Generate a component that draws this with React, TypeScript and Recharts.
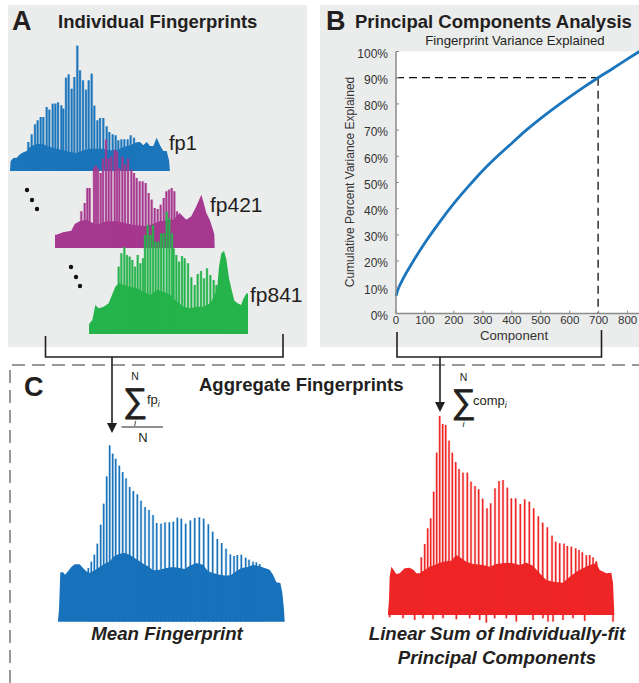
import { ComposedChart, LineChart, Line, Area, Bar, XAxis, YAxis, CartesianGrid, ReferenceLine } from "recharts";

const FONT = "'Liberation Sans', Arial, sans-serif";
const INK = "#231f20";

// individual fingerprints: channel + relative intensity
const fp1BaseX = [0,2,10,20,30,40,50,60,70,80,90,100,120,140,160,180,200,220,240,260,280,300,320,340,360,380,390,400,410,420,430,440,450,460,470,477,480];
const fp1Base = [4,32,41,42,52,58,62,74,79,82,84,82,74,69,64,59,56,64,69,69,69,64,64,74,79,88,89,79,89,77,77,102,79,62,62,34,0];
const fp1PeakX = [55,65,75,83,92,100,110,118,128,136,144,154,160,168,176,185,193,202,210,219,228,236,245,253,262,270,280,290,298,308,317,325,334,343,353,362,372];
const fp1Peak = [89,112,142,154,164,164,194,186,204,204,208,199,189,282,292,249,284,378,304,274,246,274,294,198,154,161,161,136,119,112,109,94,97,97,97,109,102];

const fp421BaseX = [0,4,24,49,59,74,94,124,154,184,234,274,314,354,374,394,409,424,439,446,454,464,474,478,479];
const fp421Base = [40,40,47,52,72,80,85,70,80,80,70,65,80,85,105,85,95,125,160,135,105,85,55,40,0];
const fp421PeakX = [79,89,97,104,117,123,129,137,144,153,161,169,179,186,193,202,210,219,229,237,245,254,263,272,281,290,299,308,317,326,334,342,350,358,366];
const fp421Peak = [110,135,180,180,241,247,238,225,268,325,268,275,295,290,240,274,250,268,235,225,210,200,200,195,165,145,120,117,130,150,170,175,180,170,110];

const fp841BaseX = [0,2,10,19,29,44,59,69,79,89,104,124,144,164,184,204,224,244,264,284,304,324,344,364,384,390,397,405,412,420,428,436,446,456,464,474,478,479];
const fp841Base = [30,33,43,88,78,83,93,118,143,153,148,143,138,128,118,133,128,118,98,83,78,83,83,93,133,203,243,250,225,168,133,101,93,88,108,125,118,0];
const fp841PeakX = [89,97,106,114,122,130,138,146,154,162,168,176,184,192,200,208,216,224,233,241,249,254,262,270,279,287,297,307,317,326,336,345,354,364,374,382];
const fp841Peak = [203,243,261,238,233,223,203,238,213,228,298,328,298,328,278,278,303,303,368,348,303,258,238,218,235,228,213,171,148,181,190,168,198,178,163,148];

// aggregate fingerprints
const meanBaseX = [0,3,7,15,21,30,40,50,65,75,85,95,110,125,140,155,170,185,200,215,230,245,260,270,285,305,325,345,365,380,395,415,435,450,465,485,505,520,535,550,570,585,605,620,635,645,655,667,673,678,680];
const meanBase = [4,36,148,148,141,151,164,172,172,161,151,146,154,164,174,181,198,204,206,201,191,181,171,166,154,156,161,164,161,158,168,176,171,151,146,141,138,141,151,161,164,171,166,161,156,141,118,116,86,36,0];
const meanPeakX = [91,100,109,118,128,137,146,155,164,173,184,194,204,215,226,238,249,261,273,285,296,309,321,334,346,358,370,383,397,410,424,437,451,464,478,491,504,517,528,538,550,563,573,585,595,605,615];
const meanPeak = [161,180,201,234,291,354,436,529,504,489,468,449,430,404,392,382,363,344,335,320,296,294,298,298,300,312,309,294,304,311,313,309,292,270,248,236,219,202,197,200,201,192,186,180,178,173,161];

const sumBaseX = [0,3,5,10,17,25,35,50,65,77,85,95,110,125,140,155,175,190,205,220,235,255,285,305,325,355,375,395,415,435,455,475,495,525,545,565,585,605,625,635,655,670,675,679];
const sumBase = [8,45,115,145,135,123,125,140,142,135,125,125,135,145,150,157,161,163,180,170,160,153,150,145,153,157,155,150,157,148,125,105,100,97,115,130,140,150,155,135,125,127,95,0];
const sumPeakX = [100,110,119,128,137,146,155,164,173,183,193,203,213,225,238,249,261,272,284,297,308,321,333,345,358,370,383,397,410,424,437,451,464,478,492,503,515,528,538,550,563,573,583,595,605,615,625];
const sumPeak = [173,213,260,290,370,487,597,573,570,523,487,459,438,427,427,400,387,377,349,320,335,380,402,405,382,350,350,333,347,340,320,296,277,263,238,220,215,214,207,205,200,195,188,179,180,173,160];
const sumDipX = [5,45,80,105,135,165,205,245,275,295,320,355,385,435,465,480,495,525,555,590,625,675];
const sumDip = [-7,-10,-15,-10,-13,-10,-13,-10,-15,-23,-10,-10,-20,-15,-10,-20,-20,-15,-10,-18,-10,-20];

// panel B
const componentX = [0,5,10,25,50,100,150,200,250,300,350,400,450,500,550,600,650,698,750,800,841];
const cumulativeVariance = [6.7,8.6,10,13.4,18.2,27,34.8,42,48.5,54.6,60,65,70,74.5,78.7,82.7,86.5,90,93.6,97.2,100];
const componentTicks = [0,100,200,300,400,500,600,700,800];
const percentTicks = [0,10,20,30,40,50,60,70,80,90,100];

function buildRows(baseX: number[], base: number[], peakX: number[], peak: number[], dipX: number[] = [], dip: number[] = []) {
  const rows = new Map<number, any>();
  const put = (x: number, key: string, v: number) => rows.set(x, { ...(rows.get(x) || { x }), [key]: v });
  baseX.forEach((x, i) => put(x, "base", base[i]));
  peakX.forEach((x, i) => put(x, "peak", peak[i]));
  dipX.forEach((x, i) => put(x, "dip", dip[i]));
  return [...rows.values()].sort((a, b) => a.x - b.x);
}

// the x axis is numeric, so the library squeezes bar width; keep its x/y/height and set the width here
const spikeShape = (color: string, w: number) => (p: any) => {
  if (!p.height) return <g />;
  const cx = p.x + p.width / 2;
  const y = Math.min(p.y, p.y + p.height);
  const h = Math.abs(p.height);
  return (
    <g>
      <rect x={cx - w / 2 - 0.6} y={y} width={w + 1.2} height={h} fill={color} fillOpacity={0.35} />
      <rect x={cx - w / 2} y={y} width={w} height={h} fill={color} />
    </g>
  );
};

function Spectrum({ left, top, width, height, rows, xMax, yMin = 0, yMax, color, spike }: any) {
  const shape = spikeShape(color, spike);
  return (
    <div style={{ position: "absolute", left, top }}>
      <ComposedChart width={width} height={height} data={rows} margin={{ top: 0, right: 0, bottom: 0, left: 0 }}>
        <XAxis dataKey="x" type="number" domain={[0, xMax]} hide />
        <YAxis type="number" domain={[yMin, yMax]} hide />
        <Area dataKey="base" type="linear" connectNulls stroke="none" fill={color} fillOpacity={1} isAnimationActive={false} dot={false} activeDot={false} />
        <Bar dataKey="peak" stackId="s" shape={shape} fill={color} isAnimationActive={false} />
        <Bar dataKey="dip" stackId="s" shape={shape} fill={color} isAnimationActive={false} />
      </ComposedChart>
    </div>
  );
}

const varianceRows = componentX.map((x, i) => ({ x, v: cumulativeVariance[i] }));
const spine = { stroke: "#8a8a8a", strokeWidth: 1.5 };

function VariancePlot() {
  return (
    <div style={{ position: "absolute", left: 330, top: 41 }}>
      <LineChart width={309.5} height={302.5} data={varianceRows} margin={{ top: 10.5, right: 0, bottom: 0, left: 0 }}>
        <CartesianGrid horizontal={false} vertical={false} fill="#fff" />
        <XAxis dataKey="x" type="number" domain={[0, 841]} ticks={componentTicks} interval={0} height={30} tickSize={-3} tickMargin={5} axisLine={spine} tickLine={{ stroke: "#8a8a8a" }} tick={{ fontSize: 11.5, fontFamily: FONT, fill: "#333" }} />
        <XAxis xAxisId="top" orientation="top" dataKey="x" type="number" domain={[0, 841]} ticks={componentTicks} interval={0} height={0} tickSize={-3} tickFormatter={() => ""} axisLine={spine} tickLine={{ stroke: "#8a8a8a" }} />
        <YAxis type="number" domain={[0, 100]} ticks={percentTicks} interval={0} width={66} tickSize={-3} tickMargin={11} tickFormatter={(v: number) => v + "%"} axisLine={spine} tickLine={{ stroke: "#8a8a8a" }} tick={{ fontSize: 12, fontFamily: FONT, fill: "#333", dy: 2 }} />
        <YAxis yAxisId="right" orientation="right" type="number" domain={[0, 100]} ticks={percentTicks} interval={0} width={0} tickSize={-3} tickFormatter={() => ""} axisLine={false} tickLine={{ stroke: "#555" }} />
        <ReferenceLine segment={[{ x: 0, y: 90 }, { x: 698, y: 90 }]} stroke="#111" strokeWidth={1.3} strokeDasharray="8 5" />
        <ReferenceLine segment={[{ x: 698, y: 90 }, { x: 698, y: 0 }]} stroke="#111" strokeWidth={1.3} strokeDasharray="8 5" />
        <Line dataKey="v" type="monotone" stroke="#1a75bc" strokeWidth={2.8} dot={false} activeDot={false} isAnimationActive={false} />
      </LineChart>
    </div>
  );
}

function Sigma({ x, y, sub, label, labelX }: any) {
  return (
    <g fontFamily={FONT} fill={INK}>
      <text x={x} y={y + 27} fontSize={34} textAnchor="middle" stroke={INK} strokeWidth={0.7}>∑</text>
      <text x={x} y={y - 5} fontSize={10.5} textAnchor="middle">N</text>
      <text x={x} y={y + 41} fontSize={9.5} textAnchor="middle" fontStyle="italic">i</text>
      <text x={labelX} y={y + 19} fontSize={13}>{label}<tspan fontSize={9} fontStyle="italic" dy={3}>{sub}</tspan></text>
    </g>
  );
}

const fp1Rows = buildRows(fp1BaseX, fp1Base, fp1PeakX, fp1Peak);
const fp421Rows = buildRows(fp421BaseX, fp421Base, fp421PeakX, fp421Peak);
const fp841Rows = buildRows(fp841BaseX, fp841Base, fp841PeakX, fp841Peak);
const meanRows = buildRows(meanBaseX, meanBase, meanPeakX, meanPeak);
const sumRows = buildRows(sumBaseX, sumBase, sumPeakX, sumPeak, sumDipX, sumDip);

export default function App() {
  return (
    <div style={{ position: "absolute", left: 0, top: 0, width: 639, height: 683, overflow: "hidden", background: "#fff" }}>
      <svg width={639} height={683} style={{ position: "absolute", left: 0, top: 0 }}>
        <rect x={8} y={5} width={299} height={342} fill="#ebecec" />
        <rect x={320} y={5} width={319} height={342} fill="#ebecec" />
      </svg>

      <Spectrum left={10} top={44.6} width={160} height={126.7} rows={fp1Rows} xMax={480} yMax={380} color="#1b75bb" spike={1.7} />
      <Spectrum left={55.3} top={138.3} width={159.7} height={110} rows={fp421Rows} xMax={479} yMax={330} color="#a6388f" spike={1.7} />
      <Spectrum left={88.7} top={211} width={159.7} height={123.3} rows={fp841Rows} xMax={479} yMax={370} color="#25b34b" spike={1.7} />
      <VariancePlot />
      <Spectrum left={58.3} top={445.3} width={226.7} height={176.7} rows={meanRows} xMax={680} yMax={530} color="#1872bb" spike={1.3} />
      <Spectrum left={388.3} top={415} width={226.7} height={208.3} rows={sumRows} xMax={680} yMin={-25} yMax={600} color="#ee2526" spike={1.3} />

      <svg width={639} height={683} style={{ position: "absolute", left: 0, top: 0 }}>
        <g fontFamily={FONT} fill={INK}>
          <text x={12} y={30} fontSize={27} fontWeight={700}>A</text>
          <text x={58} y={28} fontSize={18.5} fontWeight={700}>Individual Fingerprints</text>
          <text x={326} y={30} fontSize={27} fontWeight={700}>B</text>
          <text x={355} y={28} fontSize={18.5} fontWeight={700}>Principal Components Analysis</text>
          <text x={24} y={396} fontSize={27} fontWeight={700}>C</text>
          <text x={199} y={391} fontSize={18.5} fontWeight={700}>Aggregate Fingerprints</text>
          <text x={515} y={45} fontSize={13.2} textAnchor="middle">Fingerprint Variance Explained</text>
          <text x={514} y={340} fontSize={13.2} textAnchor="middle" fill="#333">Component</text>
          <text transform="translate(354,182) rotate(-90)" fontSize={12} textAnchor="middle" fill="#333">Cumulative Percent Variance Explained</text>
          <text x={169} y={150} fontSize={20}>fp1</text>
          <text x={210} y={212} fontSize={21}>fp421</text>
          <text x={250} y={302} fontSize={21}>fp841</text>
          <text x={167} y={640} fontSize={18.7} fontWeight={700} fontStyle="italic" textAnchor="middle">Mean Fingerprint</text>
          <text x={497} y={640} fontSize={18.7} fontWeight={700} fontStyle="italic" textAnchor="middle">Linear Sum of Individually-fit</text>
          <text x={497} y={664} fontSize={18.7} fontWeight={700} fontStyle="italic" textAnchor="middle">Principal Components</text>
        </g>

        <g fill="#111">
          <circle cx={27} cy={190} r={2.2} /><circle cx={32} cy={200} r={2.2} /><circle cx={37} cy={209} r={2.2} />
          <circle cx={71} cy={267} r={2.2} /><circle cx={76} cy={277} r={2.2} /><circle cx={80} cy={286} r={2.2} />
        </g>

        <g fill="none" stroke={INK} strokeWidth={1.6}>
          <path d="M45.5 336V357H283V334" />
          <path d="M397 332V357H601.5V330" />
          <path d="M112 357V424" />
          <path d="M440 357V404" />
        </g>
        <path d="M107 423H117L112 433Z" fill={INK} />
        <path d="M435 402H445L440 412Z" fill={INK} />

        <path d="M10 683V365H639" fill="none" stroke="#333" strokeWidth={1} strokeDasharray="13 7" />

        <Sigma x={135} y={385} label="fp" sub="i" labelX={147} />
        <path d="M121.5 427H163" stroke={INK} strokeWidth={1} />
        <text x={143} y={442} fontSize={13} fontFamily={FONT} textAnchor="middle" fill={INK}>N</text>
        <Sigma x={463.5} y={386} label="comp" sub="i" labelX={473} />
      </svg>
    </div>
  );
}
